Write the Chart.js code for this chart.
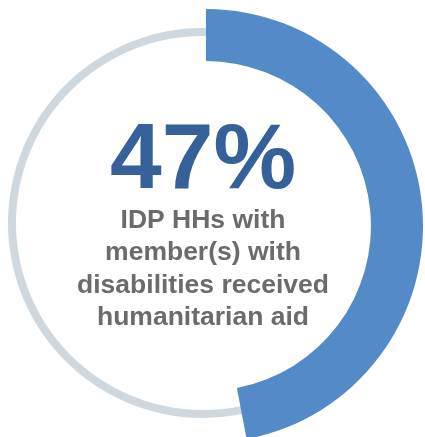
<!DOCTYPE html>
<html>
<head>
<meta charset="utf-8">
<script src="https://cdn.jsdelivr.net/npm/chart.js@4.4.0/dist/chart.umd.min.js"></script>
<style>
  html, body { margin: 0; padding: 0; background: #fff; overflow: hidden; }
  body { width: 425px; height: 437px; position: relative; }
  canvas { position: absolute; }
  #ring { left: 8px; top: 28px; }
  #arc { left: -11px; top: 9px; }
</style>
</head>
<body>
<canvas id="ring" width="390" height="390"></canvas>
<canvas id="arc" width="434" height="434"></canvas>
<script>
var categories = ['Received humanitarian aid', 'Did not receive'];
var values = [47, 53];
var headline = '47%';
var captionLines = ['IDP HHs with', 'member(s) with', 'disabilities received', 'humanitarian aid'];

// text goes on the grey ring chart, its centre is the text centre
var centerText = {
	id: 'centerText',
	afterDraw: function(chart) {
		var ctx = chart.ctx;
		var cx = chart.width / 2;
		ctx.save();
		ctx.textAlign = 'center';
		ctx.textBaseline = 'alphabetic';
		ctx.fillStyle = '#35609a';
		ctx.font = 'bold 93px "Liberation Sans", Arial, sans-serif';
		ctx.fillText(headline, cx, 160);
		ctx.fillStyle = '#6b6b6b';
		ctx.font = 'bold 26.5px "Liberation Sans", Arial, sans-serif';
		for (var i = 0; i < captionLines.length; i++) {
			ctx.fillText(captionLines[i], cx, 200 + i * 32.3);
		}
		ctx.restore();
	}
};

// thin grey ring underneath
new Chart(document.getElementById('ring'), {
	type: 'doughnut',
	data: {
		labels: categories,
		datasets: [{
			data: values,
			backgroundColor: ['#cfd8df', '#cfd8df'],
			borderWidth: 0
		}]
	},
	options: {
		responsive: false,
		animation: false,
		cutout: '95.9%',
		plugins: { legend: { display: false }, tooltip: { enabled: false } }
	},
	plugins: [centerText]
});

// thick blue arc on top
new Chart(document.getElementById('arc'), {
	type: 'doughnut',
	data: {
		labels: categories,
		datasets: [{
			data: values,
			backgroundColor: ['#558ac8', 'rgba(0,0,0,0)'],
			borderWidth: 0
		}]
	},
	options: {
		responsive: false,
		animation: false,
		cutout: '76%',
		plugins: { legend: { display: false }, tooltip: { enabled: false } }
	}
});
</script>
</body>
</html>
